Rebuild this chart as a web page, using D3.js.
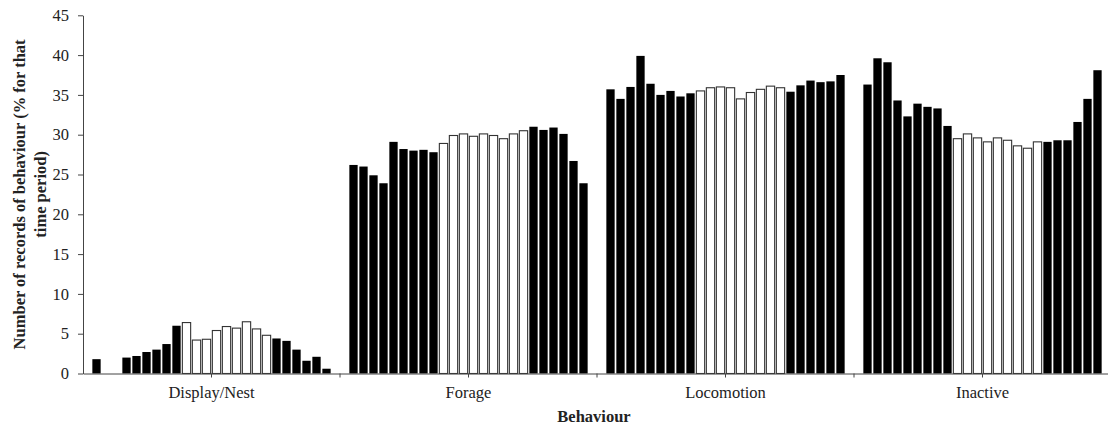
<!DOCTYPE html>
<html>
<head>
<meta charset="utf-8">
<script src="https://cdn.jsdelivr.net/npm/d3@7"></script>
<style>
  body { margin: 0; background: #fff; }
  svg { display: block; }
  text { font-family: "Liberation Serif", "Times New Roman", serif; fill: #222; }
</style>
</head>
<body>
<script>
// Behaviour categories on the x axis
const categories = ["Display/Nest", "Forage", "Locomotion", "Inactive"];

// Hour of day for each bar within a category
const hours = [0, 1, 2, 3, 4, 5, 6, 7, 8, 9, 10, 11, 12, 13, 14, 15, 16, 17, 18, 19, 20, 21, 22, 23];

// Light period (open bars) vs dark period (filled bars) for each hour
const period = ["dark", "dark", "dark", "dark", "dark", "dark", "dark", "dark", "dark",
                "light", "light", "light", "light", "light", "light", "light", "light", "light",
                "dark", "dark", "dark", "dark", "dark", "dark"];

// Percentage of records of each behaviour per hour
const displayNest = [1.8, 0, 0, 2.0, 2.2, 2.7, 3.0, 3.7, 6.0, 6.4, 4.2, 4.3, 5.4, 5.9, 5.7, 6.5, 5.6, 4.8, 4.4, 4.1, 3.0, 1.6, 2.1, 0.6];
const forage      = [26.2, 26.0, 24.9, 23.9, 29.1, 28.2, 28.0, 28.1, 27.8, 28.9, 29.9, 30.1, 29.8, 30.1, 29.9, 29.5, 30.1, 30.5, 31.0, 30.6, 30.9, 30.1, 26.7, 23.9];
const locomotion  = [35.7, 34.5, 36.0, 39.9, 36.4, 35.0, 35.5, 34.8, 35.2, 35.5, 35.9, 36.0, 35.9, 34.5, 35.3, 35.7, 36.1, 35.9, 35.4, 36.2, 36.8, 36.6, 36.7, 37.5];
const inactive    = [36.3, 39.6, 39.1, 34.3, 32.3, 33.9, 33.5, 33.3, 31.1, 29.5, 30.1, 29.6, 29.1, 29.6, 29.3, 28.6, 28.3, 29.1, 29.1, 29.3, 29.3, 31.6, 34.5, 38.1];

// Y axis tick values
const yTicks = [0, 5, 10, 15, 20, 25, 30, 35, 40, 45];

const seriesByCategory = [displayNest, forage, locomotion, inactive];

const W = 1108, H = 427;
const svg = d3.select("body").append("svg").attr("width", W).attr("height", H);
svg.append("rect").attr("width", W).attr("height", H).attr("fill", "#fff");

const x = d3.scaleBand().domain(categories).range([83, 1111]).padding(0);
const xHour = d3.scaleBand().domain(hours).range([0, x.bandwidth()])
  .paddingInner(0.17).paddingOuter(0.935);
const y = d3.scaleLinear().domain([0, 45]).range([373.5, 15.3]);

// Bars
const groups = svg.append("g").selectAll("g")
  .data(categories)
  .join("g")
  .attr("transform", d => `translate(${x(d)},0)`);

groups.selectAll("rect")
  .data((d, i) => hours.map((h, j) => ({ hour: h, value: seriesByCategory[i][j], period: period[j] })))
  .join("rect")
  .attr("x", d => xHour(d.hour))
  .attr("width", xHour.bandwidth())
  .attr("y", d => y(d.value))
  .attr("height", d => y(0) - y(d.value))
  .attr("fill", d => d.period === "dark" ? "#000" : "#fff")
  .attr("stroke", d => d.period === "dark" ? "none" : "#333")
  .attr("stroke-width", 1.1);

// Y axis
const yAxis = svg.append("g")
  .attr("transform", `translate(${x.range()[0]},0)`)
  .call(d3.axisLeft(y).tickValues(yTicks).tickSize(5).tickPadding(9).tickSizeOuter(0));
yAxis.select(".domain").attr("stroke", "#444");
yAxis.selectAll(".tick line").attr("stroke", "#444");
yAxis.selectAll(".tick text").style("font-size", "16.5px").attr("fill", "#222");

// X axis: category labels at centres, ticks at centres and boundaries
const xAxis = svg.append("g")
  .attr("transform", `translate(0,${y(0)})`)
  .call(d3.axisBottom(x).tickSize(4).tickPadding(9).tickSizeOuter(0));
xAxis.select(".domain").attr("stroke", "#444");
xAxis.selectAll(".tick line").attr("stroke", "#444");
xAxis.selectAll(".tick text").style("font-size", "16.5px").attr("fill", "#222");

xAxis.append("g").selectAll("line")
  .data(categories.slice(1))
  .join("line")
  .attr("x1", d => x(d)).attr("x2", d => x(d))
  .attr("y1", 0).attr("y2", 4)
  .attr("stroke", "#444");

// Axis titles
svg.append("text")
  .attr("x", (x.range()[0] + x.range()[1]) / 2 - 3)
  .attr("y", 422)
  .attr("text-anchor", "middle")
  .style("font-size", "16.5px")
  .style("font-weight", "bold")
  .text("Behaviour");

const yTitle = svg.append("text")
  .attr("transform", `translate(0,${(y(0) + y(45)) / 2}) rotate(-90)`)
  .attr("text-anchor", "middle")
  .style("font-size", "16.5px")
  .style("font-weight", "bold");
yTitle.append("tspan").attr("x", 0).attr("y", 25).text("Number of records of behaviour (% for that");
yTitle.append("tspan").attr("x", 0).attr("y", 46).text("time period)");
</script>
</body>
</html>
